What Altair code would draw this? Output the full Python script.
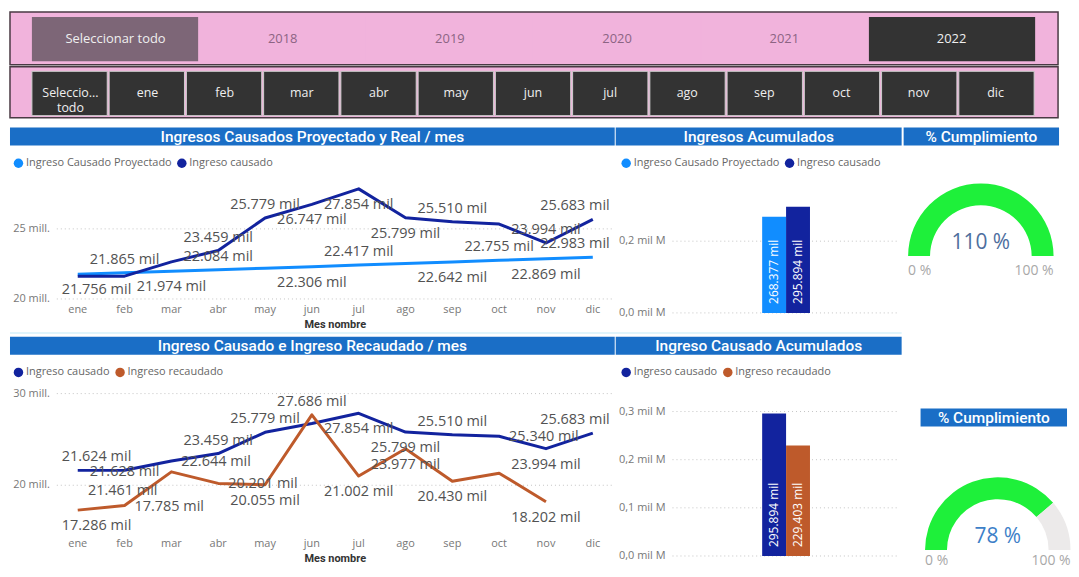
import altair as alt
import pandas as pd

# ---------------- data ----------------
MESES = ["ene", "feb", "mar", "abr", "may", "jun", "jul", "ago", "sep", "oct", "nov", "dic"]

SLICER_ANIOS = ["Seleccionar todo", "2018", "2019", "2020", "2021", "2022"]
SLICER_ANIOS_ESTADO = ["todo", "no", "no", "no", "no", "sel"]
SLICER_MESES = ["Seleccio...\ntodo"] + MESES
SLICER_MESES_ESTADO = ["sel"] * 13

TITULO_1 = "Ingresos Causados Proyectado y Real / mes"
TITULO_2 = "Ingresos Acumulados"
TITULO_3 = "% Cumplimiento"
TITULO_4 = "Ingreso Causado e Ingreso Recaudado / mes"
TITULO_5 = "Ingreso Causado Acumulados"
EJE_X = "Mes nombre"

SERIE_PROY = "Ingreso Causado Proyectado"
SERIE_CAUS = "Ingreso causado"
SERIE_REC = "Ingreso recaudado"

# monthly values in thousands ("mil")
PROYECTADO = [21756, 21865, 21974, 22084, 22195, 22306, 22417, 22529, 22642, 22755, 22869, 22983]
CAUSADO = [21624, 21628, 22644, 23459, 25779, 26747, 27854, 25799, 25510, 25340, 23994, 25683]
RECAUDADO = [17286, 17785, 21461, 20201, 20055, 27686, 21002, 23977, 20430, 21318, 18202, None]

ACUM_PROY = 268377
ACUM_CAUS = 295894
ACUM_REC = 229403

Y_TICKS_1 = [20000, 25000]
Y_TICKS_2 = [20000, 30000]
BAR_TICKS_1 = [0, 200000]
BAR_TICKS_2 = [0, 100000, 200000, 300000]
GAUGE_MIN_MAX = ["0 %", "100 %"]

# data-label placement: a above, b below, c on the point, r right, l left-below, - hidden
LADO_G1_PROY = ["b", "a", "b", "a", "-", "b", "a", "-", "b", "a", "b", "a"]
LADO_G1_CAUS = ["-", "-", "-", "a", "a", "b", "b", "b", "a", "-", "a", "a"]
LADO_G2_CAUS = ["a", "c", "r", "a", "a", "-", "b", "b", "a", "r", "b", "a"]
LADO_G2_REC = ["b", "r", "l", "r", "b", "a", "b", "b", "b", "-", "b", "-"]

# ---------------- style ----------------
C_PROY = "#118DFF"
C_CAUS = "#12239E"
C_REC = "#BE5A2B"
GREEN = "#1EF03A"
GRAY_G = "#ECEAEA"
PINK = "#F1B3DC"
BORDER = "#4A3A44"
MAUVE = "#7D6677"
DARK = "#333333"
BLUE_HDR = "#1A6EC6"
FONT = "Open Sans"
HFONT = "Roboto"
GRID_COLOR = "#C4C4C4"
AX_COLOR = "#777777"
LBL_SIZE = 14.5

W, H = 1063, 558
DUMMY = pd.DataFrame({"v": [0]})


def L(v):
    """reference-page pixel -> chart pixel"""
    return v - 8


def mil(v):
    return f"{v:,}".replace(",", ".") + " mil"


def label_style(code, mes):
    if code == "r":
        return "left", 10, 1
    if code == "l":
        return "right", -14, 19
    dy = {"a": -13, "b": 16, "c": 2}[code]
    if mes == MESES[0]:
        return "left", -16, dy
    if mes == MESES[-1]:
        return "right", 17, dy
    return "center", 0, dy


layers = []


def box(x0, x1, y0, y1, **kw):
    return alt.Chart(DUMMY).mark_rect(**kw).encode(
        x=alt.value(L(x0)), x2=alt.value(L(x1)), y=alt.value(L(y0)), y2=alt.value(L(y1)))


def header(x0, x1, y0, y1, text, size=15.5):
    r = box(x0, x1, y0, y1, fill=BLUE_HDR)
    t = alt.Chart(pd.DataFrame({"t": [text]})).mark_text(
        font=HFONT, fontSize=size, fontWeight=500, color="white", baseline="middle").encode(
        text="t:N", x=alt.value(L((x0 + x1) / 2)), y=alt.value(L((y0 + y1) / 2) + 0.5))
    return [r, t]


def slicer(items, states, x0, x1, y0, y1, bx0, bx1, by0, by1, pinner, fsize, rect_stroke):
    out = [box(x0, x1, y0, y1, fill=PINK, stroke=BORDER, strokeWidth=1.5)]
    df = pd.DataFrame({"item": items, "estado": states})
    sc = alt.Scale(domain=items, range=[L(bx0), L(bx1)], paddingInner=pinner, paddingOuter=0)
    base = alt.Chart(df)
    out.append(base.mark_rect(stroke=rect_stroke, strokeWidth=1).encode(
        x=alt.X("item:N", sort=items, scale=sc, axis=None),
        y=alt.value(L(by0)), y2=alt.value(L(by1)),
        fill=alt.Fill("estado:N", scale=alt.Scale(domain=["todo", "sel", "no"],
                                                  range=[MAUVE, DARK, PINK]), legend=None)))
    out.append(base.mark_text(font=FONT, fontSize=fsize, baseline="middle", lineBreak="\n",
                              lineHeight=15).encode(
        x=alt.X("item:N", sort=items, scale=sc, axis=None, bandPosition=0.5),
        y=alt.value(L((by0 + by1) / 2)),
        text="item:N",
        color=alt.Color("estado:N", scale=alt.Scale(domain=["todo", "sel", "no"],
                                                    range=["#EFEFEF", "#EFEFEF", "#8C6483"]), legend=None)))
    return out


def legend(x, y):
    return alt.Legend(orient="none", legendX=L(x), legendY=L(y), direction="horizontal", title=None,
                      symbolType="circle", symbolSize=90, symbolStrokeWidth=0, labelFont=FONT,
                      labelFontSize=11, labelColor="#666666", columnPadding=4, labelOffset=2,
                      padding=0)


def line_panel(series, values, sides, colors, ydom, yticks, px0, px1, py0, py1,
               xl_y, title_y, leg_x, leg_y):
    out = []
    xs = alt.Scale(domain=MESES, range=[L(78), L(595)], padding=0)
    ys = alt.Scale(domain=ydom, range=[L(py1), L(py0)], nice=False, zero=False)
    cs = alt.Scale(domain=series, range=colors)
    # grid + y labels
    tdf = pd.DataFrame({"v": yticks})
    out.append(alt.Chart(tdf).mark_rule(color=GRID_COLOR, strokeDash=[1, 3], strokeWidth=1).encode(
        y=alt.Y("v:Q", scale=ys, axis=None), x=alt.value(L(px0)), x2=alt.value(L(px1))))
    out.append(alt.Chart(tdf).transform_calculate(
        lab="format(datum.v / 1000, '.0f') + ' mill.'").mark_text(
        font=FONT, fontSize=11, color=AX_COLOR, align="right", baseline="middle").encode(
        y=alt.Y("v:Q", scale=ys, axis=None), x=alt.value(L(px0 - 7)), text="lab:N"))
    # x labels + title
    out.append(alt.Chart(pd.DataFrame({"mes": MESES})).mark_text(
        font=FONT, fontSize=11, color=AX_COLOR, baseline="middle").encode(
        x=alt.X("mes:N", sort=MESES, scale=xs, axis=None), y=alt.value(L(xl_y)), text="mes:N"))
    out.append(alt.Chart(pd.DataFrame({"t": [EJE_X]})).mark_text(
        font=HFONT, fontSize=11, fontWeight="bold", color="#333333", baseline="middle").encode(
        x=alt.value(L((px0 + px1) / 2)), y=alt.value(L(title_y)), text="t:N"))
    # lines
    rows = []
    for s, vals, sd in zip(series, values, sides):
        for m, v, code in zip(MESES, vals, sd):
            if v is None:
                continue
            if code == "-":
                grp = "none"
            else:
                al, dx, dy = label_style(code, m)
                grp = f"{al}|{dx}|{dy}"
            rows.append(dict(mes=m, serie=s, valor=v, etiqueta=mil(v), grp=grp))
    df = pd.DataFrame(rows)
    base = alt.Chart(df)
    x = alt.X("mes:N", sort=MESES, scale=xs, axis=None)
    y = alt.Y("valor:Q", scale=ys, axis=None)
    for s in series:
        out.append(base.transform_filter(alt.datum.serie == s).mark_line(
            strokeWidth=3, strokeJoin="round").encode(
            x=x, y=y, color=alt.Color("serie:N", scale=cs, legend=None)))
    # legend (filled circles)
    out.append(base.transform_filter("false").mark_circle(opacity=1).encode(
        x=x, y=y, color=alt.Color("serie:N", scale=cs, legend=legend(leg_x, leg_y))))
    for grp in sorted(set(df["grp"]) - {"none"}):
        al, dx, dy = grp.split("|")
        out.append(base.transform_filter(alt.datum.grp == grp).mark_text(
            align=al, dx=float(dx), dy=float(dy), baseline="middle", font=FONT,
            fontSize=LBL_SIZE, color="#525252").encode(x=x, y=y, text="etiqueta:N"))
    return out


def bar_panel(series, values, colors, ticks, px0, px1, py0, py1, leg_x, leg_y):
    out = []
    ys = alt.Scale(domain=[0, 300000], range=[L(py1), L(py0)], nice=False)
    xs = alt.Scale(domain=series, range=[L(765), L(813)], paddingInner=0, paddingOuter=0)
    tdf = pd.DataFrame({"v": ticks})
    out.append(alt.Chart(tdf).mark_rule(color=GRID_COLOR, strokeDash=[1, 3], strokeWidth=1).encode(
        y=alt.Y("v:Q", scale=ys, axis=None), x=alt.value(L(px0)), x2=alt.value(L(px1))))
    out.append(alt.Chart(tdf).transform_calculate(
        lab="replace(format(datum.v / 1000000, '.1f'), '.', ',') + ' mil M'").mark_text(
        font=FONT, fontSize=11, color=AX_COLOR, align="right", baseline="middle").encode(
        y=alt.Y("v:Q", scale=ys, axis=None), x=alt.value(L(px0 - 7)), text="lab:N"))
    df = pd.DataFrame({"serie": series, "valor": values, "etiqueta": [mil(v) for v in values]})
    base = alt.Chart(df)
    out.append(base.mark_bar().encode(
        x=alt.X("serie:N", sort=series, scale=xs, axis=None),
        y=alt.Y("valor:Q", scale=ys, axis=None),
        color=alt.Color("serie:N", scale=alt.Scale(domain=series, range=colors),
                        legend=legend(leg_x, leg_y))))
    out.append(base.mark_text(angle=270, align="left", baseline="middle", dx=9, font=FONT,
                              fontSize=12, color="white").encode(
        x=alt.X("serie:N", sort=series, scale=xs, axis=None, bandPosition=0.5),
        y=alt.Y("cero:Q", scale=ys, axis=None), text="etiqueta:N").transform_calculate(cero="0"))
    return out


def gauge_panel(frac, cx, cy, lab_dy, tcolor):
    f = min(frac, 1.0)
    arc_df = pd.DataFrame({"parte": ["valor", "resto"], "ini": [0.0, f], "fin": [f, 1.0]})
    out = [alt.Chart(arc_df).mark_arc(innerRadius=51, outerRadius=73).encode(
        theta=alt.Theta("ini:Q", scale=alt.Scale(domain=[0, 1], range=[4.712389, 7.853982]), stack=False),
        theta2="fin:Q",
        color=alt.Color("parte:N", scale=alt.Scale(domain=["valor", "resto"], range=[GREEN, GRAY_G]),
                        legend=None),
        x=alt.value(L(cx)), y=alt.value(L(cy)))]
    out.append(alt.Chart(pd.DataFrame({"t": [f"{round(frac * 100)} %"]})).mark_text(
        font=FONT, fontSize=21, color=tcolor, baseline="middle").encode(
        text="t:N", x=alt.value(L(cx)), y=alt.value(L(cy - 13))))
    out.append(alt.Chart(pd.DataFrame({"t": [GAUGE_MIN_MAX[0]]})).mark_text(
        font=FONT, fontSize=14, color="#A8A8A8", align="left", baseline="middle").encode(
        text="t:N", x=alt.value(L(cx - 73)), y=alt.value(L(cy + lab_dy))))
    out.append(alt.Chart(pd.DataFrame({"t": [GAUGE_MIN_MAX[1]]})).mark_text(
        font=FONT, fontSize=14, color="#A8A8A8", align="right", baseline="middle").encode(
        text="t:N", x=alt.value(L(cx + 73)), y=alt.value(L(cy + lab_dy))))
    return out


# ---------------- assemble (reference pixel coordinates) ----------------
layers += slicer(SLICER_ANIOS, SLICER_ANIOS_ESTADO, 10, 1062, 11, 64, 32, 1039, 16, 60.5, 0.007, 13, None)
layers += slicer(SLICER_MESES, SLICER_MESES_ESTADO, 10, 1062, 66, 117, 32, 1038, 70.5, 115, 0.025, 12.5,
                 "#CFCFCF")

layers += header(10, 617, 127, 145, TITULO_1)
layers += header(618, 905, 127, 145, TITULO_2)
layers += header(907, 1063, 127, 145, TITULO_3)
layers += header(10, 617, 337, 355, TITULO_4)
layers += header(618, 905, 337, 355, TITULO_5)
layers += header(924, 1071, 409, 427, TITULO_3)
layers.append(box(10, 905, 332.5, 334, fill="#D6F1FA"))

layers += line_panel([SERIE_PROY, SERIE_CAUS], [PROYECTADO, CAUSADO], [LADO_G1_PROY, LADO_G1_CAUS],
                     [C_PROY, C_CAUS], [20000, 28600], Y_TICKS_1, 57, 616, 178, 299,
                     310, 325, 13, 157)
layers += bar_panel([SERIE_PROY, SERIE_CAUS], [ACUM_PROY, ACUM_CAUS], [C_PROY, C_CAUS], BAR_TICKS_1,
                    675, 900, 205, 313, 623, 157)
layers += gauge_panel(ACUM_CAUS / ACUM_PROY, 984.5, 256, 15, "#4E6E9E")

layers += line_panel([SERIE_CAUS, SERIE_REC], [CAUSADO, RECAUDADO], [LADO_G2_CAUS, LADO_G2_REC],
                     [C_CAUS, C_REC], [15000, 30000], Y_TICKS_2, 57, 616, 394, 532,
                     545, 560, 13, 367)
layers += bar_panel([SERIE_CAUS, SERIE_REC], [ACUM_CAUS, ACUM_REC], [C_CAUS, C_REC], BAR_TICKS_2,
                    675, 900, 412, 557, 623, 367)
layers += gauge_panel(ACUM_REC / ACUM_CAUS, 1001.5, 551, 11, "#3D7FC8")

chart = alt.layer(*layers).resolve_scale(
    x="independent", y="independent", color="independent", fill="independent", theta="independent"
).properties(width=W, height=H, padding=0, background="white").configure_view(strokeWidth=0)

chart.save("out.html", embed_options={"renderer": "svg", "actions": False})
